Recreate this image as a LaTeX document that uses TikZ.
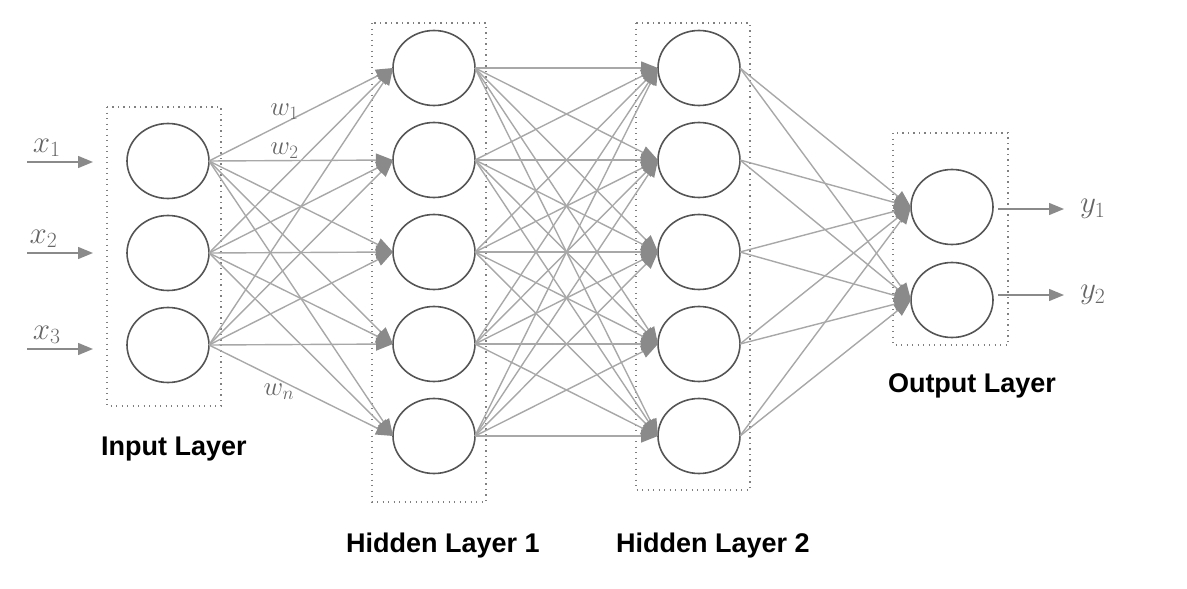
\documentclass[tikz,border=0pt]{standalone}
\usepackage{fix-cm}
\usepackage{fontspec}
\setmainfont{Liberation Sans}
\usepackage{tikz}
\usetikzlibrary{arrows.meta,shapes.geometric}
\definecolor{linkgray}{HTML}{A8A8A8}
\definecolor{tipgray}{HTML}{8A8A8A}
\definecolor{ringgray}{HTML}{555555}
\definecolor{labelgray}{HTML}{666666}

\begin{document}
\begin{tikzpicture}[x=1pt,y=-1pt,
    neuron/.style={ellipse, draw=ringgray, line width=1.6pt, minimum width=82pt,
                   minimum height=75pt, inner sep=0pt, outer sep=0pt},
    layerbox/.style={draw=gray, line width=1.3pt, dash pattern=on 1.3pt off 4.2pt},
    link/.style={linkgray, line width=1.4pt, -{Triangle[length=17pt,width=13pt,color=tipgray]}},
    signal/.style={tipgray, line width=1.4pt, -{Triangle[length=15pt,width=12pt]}},
    layername/.style={font=\fontsize{27}{32}\selectfont\bfseries},
    varname/.style={text=labelgray, font=\fontsize{31}{34}\selectfont},
    wname/.style={text=labelgray, font=\fontsize{27}{30}\selectfont}
]
\useasboundingbox (0,0) rectangle (1187,589);

% Layer boxes
\draw[layerbox] (107,107) rectangle (221,406);
\draw[layerbox] (372,23) rectangle (486,502);
\draw[layerbox] (636,23) rectangle (750,490);
\draw[layerbox] (893,133) rectangle (1008,345);

% Neurons
\node[neuron] (i1) at (168,161){};
\node[neuron] (i2) at (168,253){};
\node[neuron] (i3) at (168,345){};

\node[neuron] (a1) at (434,68){};
\node[neuron] (a2) at (434,160){};
\node[neuron] (a3) at (434,252){};
\node[neuron] (a4) at (434,344){};
\node[neuron] (a5) at (434,436){};

\node[neuron] (b1) at (699,68){};
\node[neuron] (b2) at (699,160){};
\node[neuron] (b3) at (699,252){};
\node[neuron] (b4) at (699,344){};
\node[neuron] (b5) at (699,436){};

\node[neuron] (o1) at (952,207){};
\node[neuron] (o2) at (952,300){};

% Links
\foreach \s in {1,2,3}
  \foreach \t in {1,...,5}
    \draw[link] (i\s.east) -- (a\t.west);
\foreach \s in {1,...,5}
  \foreach \t in {1,...,5}
    \draw[link] (a\s.east) -- (b\t.west);
\foreach \s in {1,...,5}
  \foreach \t in {1,2}
    \draw[link] (b\s.east) -- (o\t.west);

% Weights
\path (i1.east) -- (a1.west) node[wname,pos=0.41,above=0pt]{$w_1$};
\path (i1.east) -- (a2.west) node[wname,pos=0.41,above=-1pt]{$w_2$};
\path (i3.east) -- (a5.west) node[wname,pos=0.38,below=1pt]{$w_n$};

% Inputs and outputs
\coordinate (x1) at (27,162);
\coordinate (x2) at (27,253);
\coordinate (x3) at (27,349);
\draw[signal] (x1) -- ([xshift=-34,yshift=-1]i1.west) node[varname,pos=0.3,above=1pt]{$x_1$};
\draw[signal] (x2) -- ([xshift=-34]i2.west) node[varname,pos=0.25,above=1pt]{$x_2$};
\draw[signal] (x3) -- ([xshift=-34,yshift=-4]i3.west) node[varname,pos=0.3,above=1pt]{$x_3$};

\draw[signal] ([xshift=5,yshift=-2]o1.east) -- ++(66,0) node[varname,right=12pt]{$y_1$};
\draw[signal] ([xshift=5,yshift=5]o2.east) -- ++(66,0) node[varname,right=12pt]{$y_2$};

% Layer names
\node[layername] (inname)  at (174,449) {Input Layer};
\node[layername] (h1name)  at (443,546) {Hidden Layer 1};
\node[layername] (h2name)  at (713,546) {Hidden Layer 2};
\node[layername] (outname) at (972,386) {Output Layer};

\end{tikzpicture}
\end{document}
